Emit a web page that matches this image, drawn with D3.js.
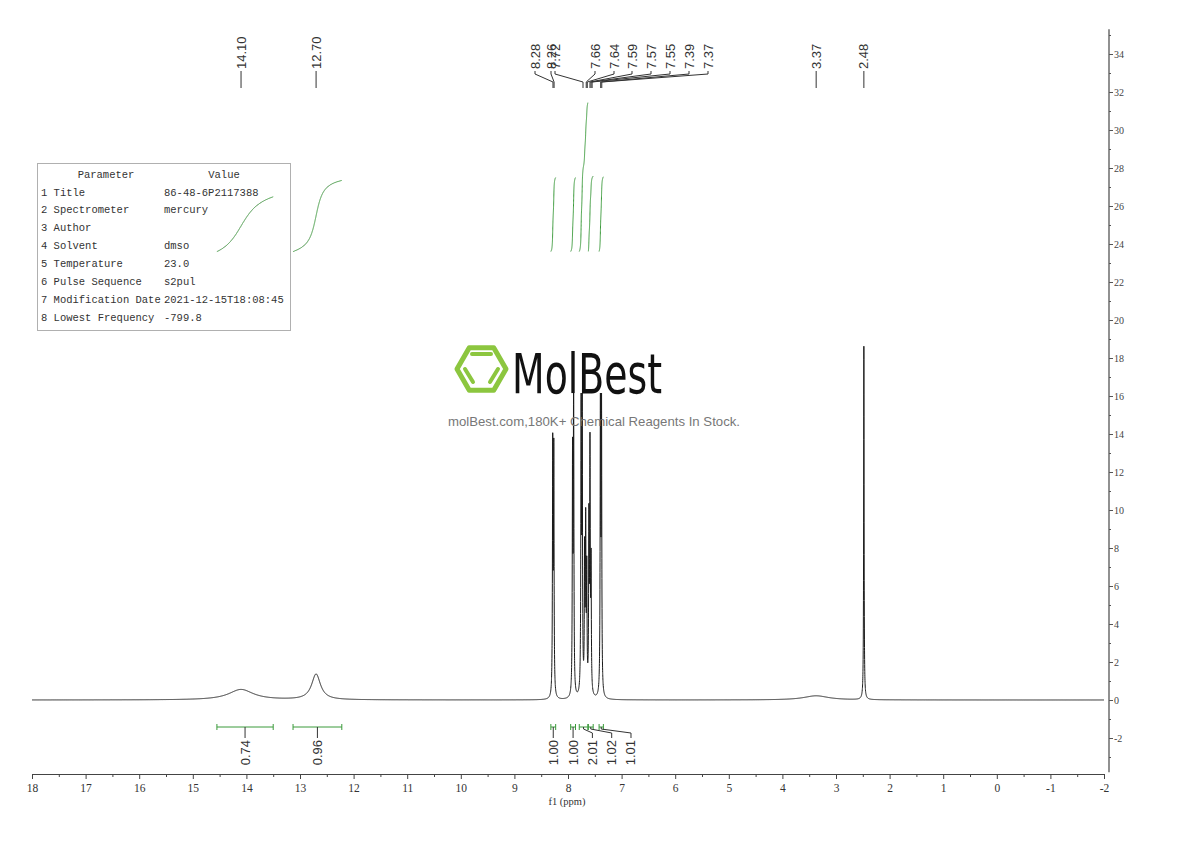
<!DOCTYPE html>
<html><head><meta charset="utf-8">
<script src="https://cdn.jsdelivr.net/npm/d3@7"></script>
<style>body{margin:0;background:#fff}svg{display:block}</style>
</head><body>
<svg id="c" width="1190" height="841"></svg>
<script>
// ---------------- DATA ----------------
// spectrum peaks: position (ppm), height (intensity units of right axis), half width (ppm)
const peakPpm    = [14.10, 12.70, 8.285, 8.265, 7.915, 7.895, 7.755, 7.735, 7.690, 7.670, 7.650, 7.610, 7.590, 7.570, 7.395, 7.375, 3.37, 2.48];
const peakHeight = [0.55,  1.35,  13.0,  12.7,  12.4,  16.6,  16.6,  15.2,  7.2,   8.6,   6.2,   8.8,   12.6,  6.6,   16.6,  15.6,  0.22, 18.6];
const peakWidth  = [0.28,  0.10,  0.006, 0.006, 0.006, 0.006, 0.006, 0.006, 0.006, 0.006, 0.006, 0.006, 0.006, 0.006, 0.006, 0.006, 0.28, 0.005];

// peak picking labels (ppm)
const peakLabels = ["14.10", "12.70", "8.28", "8.26", "7.72", "7.66", "7.64", "7.59", "7.57", "7.55", "7.39", "7.37", "3.37", "2.48"];

// integrals
const integralFrom   = [14.55, 13.13, 8.32, 7.95, 7.79, 7.62, 7.42];
const integralTo     = [13.50, 12.22, 8.23, 7.86, 7.63, 7.53, 7.34];
const integralValues = ["0.74", "0.96", "1.00", "1.00", "2.01", "1.02", "1.01"];

// axes
const xTickValues = d3.range(18, -2.5, -1);
const yTickValues = d3.range(-2, 35, 2);

// parameter table
const paramNames  = ["1 Title", "2 Spectrometer", "3 Author", "4 Solvent", "5 Temperature", "6 Pulse Sequence", "7 Modification Date", "8 Lowest Frequency"];
const paramValues = ["86-48-6P2117388", "mercury", "", "dmso", "23.0", "s2pul", "2021-12-15T18:08:45", "-799.8"];

// ---------------- LAYOUT ----------------
const svg = d3.select("#c");
const x = d3.scaleLinear().domain([18, -2]).range([32, 1104]);
const y = d3.scaleLinear().domain([0, 34]).range([700, 54]);
const yAxisX = 1109;
const xAxisY = 774;
const serif = "'Liberation Serif','DejaVu Serif',serif";
const sans = "'Liberation Sans',Arial,sans-serif";
const mono = "'Liberation Mono','DejaVu Sans Mono',monospace";
// horizontal positions of the crowded peak labels (layout only)
const labelSlots = {"8.28":535, "8.26":551, "7.72":555, "7.66":595, "7.64":614, "7.59":632, "7.57":651, "7.55":670, "7.39":689, "7.37":708};
const integralBase = 23.6, integralScale = 3.9; // right-axis units

function spec(p) {
  let s = 0;
  for (let i = 0; i < peakPpm.length; i++) {
    const d = p - peakPpm[i], w = peakWidth[i];
    s += peakHeight[i] * w * w / (d * d + w * w);
  }
  return s;
}

// ---------------- PARAMETER TABLE ----------------
const tbl = svg.append("g");
tbl.append("rect").attr("x", 37.5).attr("y", 163.5).attr("width", 253).attr("height", 167)
  .attr("fill", "#fff").attr("stroke", "#b0b0b0");
tbl.append("text").attr("x", 106).attr("y", 178).attr("text-anchor", "middle")
  .attr("font-family", mono).attr("font-size", 10.5).attr("fill", "#333").text("Parameter");
tbl.append("text").attr("x", 224).attr("y", 178).attr("text-anchor", "middle")
  .attr("font-family", mono).attr("font-size", 10.5).attr("fill", "#333").text("Value");
paramNames.forEach((n, i) => {
  const yy = 195.5 + i * 17.9;
  tbl.append("text").attr("x", 41).attr("y", yy).attr("font-family", mono).attr("font-size", 10.5)
    .attr("fill", "#333").text(n);
  tbl.append("text").attr("x", 164).attr("y", yy).attr("font-family", mono).attr("font-size", 10.5)
    .attr("fill", "#333").text(paramValues[i]);
});

// ---------------- SPECTRUM ----------------
let pts = d3.range(18, -2.0001, -0.0025);
peakPpm.forEach((p, i) => {
  if (peakWidth[i] < 0.05) for (let k = -30; k <= 30; k++) pts.push(p + k * 0.001);
});
pts.sort((a, b) => b - a);
const data = pts.map(p => [p, spec(p)]);
svg.append("path").datum(data)
  .attr("d", d3.line().x(d => x(d[0])).y(d => y(d[1])))
  .attr("fill", "none").attr("stroke", "#1a1a1a").attr("stroke-width", 1);

// ---------------- INTEGRAL CURVES ----------------
integralFrom.forEach((a, i) => {
  const b = integralTo[i];
  const ps = d3.range(a, b - 0.00001, -0.0005);
  let cum = 0; const vals = ps.map(p => (cum += spec(p)));
  const tot = cum;
  const v = +integralValues[i];
  const curve = ps.map((p, j) => [p, integralBase + integralScale * v * vals[j] / tot]);
  svg.append("path").datum(curve)
    .attr("d", d3.line().x(d => x(d[0])).y(d => y(d[1])))
    .attr("fill", "none").attr("stroke", "#3a9a3a").attr("stroke-width", 1);
});

// ---------------- INTEGRAL BRACKETS & LABELS ----------------
const brY = 727;
let lastLX = -1e9;
integralFrom.forEach((a, i) => {
  const b = integralTo[i];
  const x1 = x(a), x2 = x(b), cx = (x1 + x2) / 2;
  const g = svg.append("g");
  g.append("path").attr("d", `M${x1},${brY}H${x2}M${x1},${brY-3}V${brY+3}M${x2},${brY-3}V${brY+3}`)
    .attr("stroke", "#3a9a3a").attr("fill", "none").attr("stroke-width", 1);
  const lx = Math.max(cx, lastLX + 19.3);
  lastLX = lx;
  g.append("path").attr("d", `M${cx},${brY}V${brY+2}L${lx},${brY+6}V${brY+11}`)
    .attr("stroke", "#333").attr("fill", "none").attr("stroke-width", 1);
  g.append("text").attr("transform", `translate(${lx},${brY+13}) rotate(-90)`)
    .attr("text-anchor", "end").attr("dominant-baseline", "central")
    .attr("font-family", sans).attr("font-size", 13).attr("fill", "#333").text(integralValues[i]);
});

// ---------------- PEAK LABELS ----------------
peakLabels.forEach(l => {
  const px = x(+l);
  const lx = labelSlots[l] !== undefined ? labelSlots[l] : px;
  svg.append("path").attr("d", `M${lx},71V74L${px},82V88`)
    .attr("stroke", "#333").attr("fill", "none").attr("stroke-width", 1);
  svg.append("text").attr("transform", `translate(${lx},69) rotate(-90)`)
    .attr("text-anchor", "start").attr("dominant-baseline", "central")
    .attr("font-family", sans).attr("font-size", 13).attr("fill", "#333").text(l);
});

// ---------------- AXES ----------------
const xa = svg.append("g").attr("transform", `translate(0,${xAxisY})`)
  .call(d3.axisBottom(x).tickValues(xTickValues).tickSize(5).tickSizeOuter(0).tickFormat(d => String(d)));
xa.select(".domain").attr("stroke", "#444");
xa.selectAll(".tick line").attr("stroke", "#444");
xa.selectAll("text").attr("font-family", serif).attr("font-size", 11.5).attr("fill", "#333").attr("dy", "0.9em");
svg.append("g").attr("transform", `translate(0,${xAxisY})`)
  .call(d3.axisBottom(x).tickValues(d3.range(17.5, -2, -1)).tickSize(3).tickFormat(""))
  .call(g => g.select(".domain").remove()).selectAll("line").attr("stroke", "#444");
svg.append("text").attr("x", 567).attr("y", 805).attr("text-anchor", "middle")
  .attr("font-family", serif).attr("font-size", 10.5).attr("fill", "#333").text("f1 (ppm)");

const ya = svg.append("g").attr("transform", `translate(${yAxisX},0)`)
  .call(d3.axisRight(y).tickValues(yTickValues).tickSize(4).tickSizeOuter(0).tickFormat(d => String(d)));
ya.select(".domain").attr("d", `M0,${y(35.3)}V${y(-3.8)}`).attr("stroke", "#555").attr("stroke-width", 1.3);
ya.selectAll(".tick line").attr("stroke", "#555");
ya.selectAll("text").attr("font-family", serif).attr("font-size", 10).attr("fill", "#444").attr("x", 5);
svg.append("g").attr("transform", `translate(${yAxisX},0)`)
  .call(d3.axisRight(y).tickValues(d3.range(-3, 36, 2)).tickSize(2).tickFormat(""))
  .call(g => g.select(".domain").remove()).selectAll("line").attr("stroke", "#555");

// ---------------- WATERMARK ----------------
const wm = svg.append("g");
wm.append("rect").attr("x", 452).attr("y", 340).attr("width", 214).attr("height", 53).attr("fill", "#fff");
const hc = [481.5, 369], R = 24.5;
const hex = d3.range(6).map(k => [hc[0] + R * Math.cos(k * Math.PI / 3), hc[1] + R * Math.sin(k * Math.PI / 3)]);
wm.append("path").attr("d", "M" + hex.join("L") + "Z").attr("fill", "none")
  .attr("stroke", "#8cc63f").attr("stroke-width", 5).attr("stroke-linejoin", "round");
wm.append("path").attr("d", "M472,354H491M465,369L473,382M498,369L490,382")
  .attr("stroke", "#8cc63f").attr("stroke-width", 4).attr("stroke-linecap", "round").attr("fill", "none");
wm.append("text").attr("x", 512).attr("y", 393).attr("textLength", 150).attr("lengthAdjust", "spacingAndGlyphs")
  .attr("font-family", "'DejaVu Sans Condensed','DejaVu Sans',sans-serif").attr("font-size", 55)
  .attr("fill", "#111").text("MolBest");
wm.append("text").attr("x", 448).attr("y", 426).attr("textLength", 292).attr("lengthAdjust", "spacingAndGlyphs")
  .attr("font-family", sans).attr("font-size", 13.5).attr("fill", "#777")
  .text("molBest.com,180K+ Chemical Reagents In Stock.");
</script>
</body></html>
